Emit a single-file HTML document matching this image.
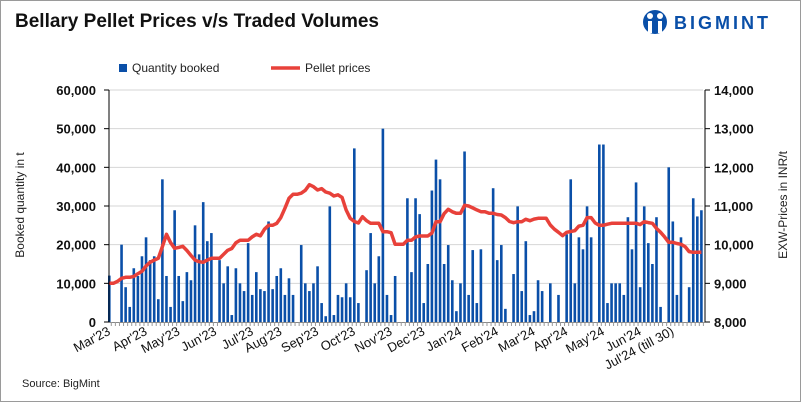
<!DOCTYPE html>
<html><head><meta charset="utf-8"><style>
body{margin:0;background:#fff}
svg{display:block;font-family:"Liberation Sans",sans-serif}
</style></head><body>
<svg id="c" width="801" height="402" viewBox="0 0 801 402">
<rect x="0.5" y="0.5" width="800" height="401" fill="#fff" stroke="#9a9a9a"/>
<text x="15" y="27" font-size="19" font-weight="bold" fill="#111">Bellary Pellet Prices v/s Traded Volumes</text>
<g>
<circle cx="655" cy="22" r="12" fill="#0a4fa8"/>
<circle cx="650" cy="16" r="3" fill="#fff"/><circle cx="660" cy="16" r="3" fill="#fff"/>
<rect x="648" y="21" width="4" height="12" fill="#fff"/><rect x="658" y="21" width="4" height="12" fill="#fff"/>
<text x="674" y="29" font-size="18" font-weight="bold" fill="#0a4fa8" letter-spacing="3">BIGMINT</text>
</g>
<g>
<rect x="119" y="64" width="8" height="8" fill="#0a4fa8"/>
<text x="132" y="72" font-size="12" fill="#222">Quantity booked</text>
<line x1="271" y1="68" x2="300" y2="68" stroke="#e8413a" stroke-width="3.5"/>
<text x="305" y="72" font-size="12" fill="#222">Pellet prices</text>
</g>
<g id="grid"></g><g id="bars"></g><g id="line"></g><g id="axes"></g>
<text transform="translate(24,205) rotate(-90)" text-anchor="middle" font-size="12" fill="#222">Booked quantity in t</text>
<text transform="translate(787,205) rotate(-90)" text-anchor="middle" font-size="12" fill="#222">EXW-Prices in INR/t</text>
<text x="22" y="387" font-size="11" fill="#222">Source: BigMint</text>
</svg>
<script>
const quantities=[12000,0,0,20000,9000,3900,13900,11900,17000,21900,16000,17000,5900,36900,11900,3900,28900,11900,5400,12900,10800,25000,17500,31000,20900,23000,0,16000,10000,14400,1800,13900,10000,8000,20400,7000,12900,8500,8000,26000,8500,11900,13900,7000,11300,7000,0,19900,10000,8000,10000,14400,4900,1500,29900,1800,7000,6400,10000,6400,44900,4900,0,13400,23000,10000,17000,50000,7000,1800,11900,0,0,32000,12900,32000,27900,4900,15000,34000,42000,36900,15000,19900,10800,2800,10000,44100,7000,18600,4900,18800,0,0,34600,16000,19900,3400,0,12400,29900,8000,20900,1800,2800,10800,8000,0,10000,0,7000,0,22700,36900,10000,21900,18800,29900,21900,0,45900,45900,4900,10000,10000,10000,7000,27100,18800,36100,9000,29900,20400,15000,27100,3900,0,40000,26000,7000,21900,0,9000,32000,27300,28900];
const prices=[9000,9000,9050,9130,9155,9155,9180,9250,9310,9450,9544,9600,9647,9950,10268,10050,9906,9930,9958,9850,9720,9600,9560,9544,9600,9647,9647,9647,9750,9854,9900,10050,10113,10113,10113,10200,10268,10230,10400,10500,10500,10550,10700,10940,11200,11302,11302,11330,11406,11550,11500,11413,11450,11362,11330,11258,11290,11220,10900,10681,10600,10560,10724,10620,10552,10552,10552,10336,10336,10310,10009,10009,10009,10113,10113,10200,10224,10224,10224,10300,10594,10594,10800,10914,10850,10810,10810,11018,11000,10950,10900,10852,10852,10810,10810,10780,10767,10700,10600,10568,10594,10594,10655,10620,10660,10681,10681,10681,10508,10400,10320,10232,10320,10340,10362,10480,10500,10700,10700,10560,10500,10500,10530,10552,10552,10552,10552,10552,10552,10552,10520,10594,10570,10552,10420,10320,10200,10060,10060,10030,10009,9950,9820,9802,9802,9802];
const leftTicks=[0,10000,20000,30000,40000,50000,60000];
const rightTicks=[8000,9000,10000,11000,12000,13000,14000];
const monthLabels=["Mar'23","Apr'23","May'23","Jun'23","Jul'23","Aug'23","Sep'23","Oct'23","Nov'23","Dec'23","Jan'24","Feb'24","Mar'24","Apr'24","May'24","Jun'24","Jul'24 (till 30)"];
const monthSlots=[0,9,17,26,35,42,51,60,69,77,86,95,104,112,121,130,138];

const NS="http://www.w3.org/2000/svg";
const X0=109.3,X1=701.4,YT=90,YB=322;
const n=quantities.length;
function xAt(i){return X0+i*(X1-X0)/(n-1);}
function yL(v){return YB-(v/60000)*(YB-YT);}
function yR(v){return YB-((v-8000)/6000)*(YB-YT);}
function mk(tag,attrs,parent){const e=document.createElementNS(NS,tag);for(const k in attrs)e.setAttribute(k,attrs[k]);parent.appendChild(e);return e;}
const g=document.getElementById('grid'),b=document.getElementById('bars'),l=document.getElementById('line'),a=document.getElementById('axes');
leftTicks.forEach(t=>{
 if(t>0){const gl=mk('line',{x1:109,x2:703,y1:yL(t),y2:yL(t),stroke:'#d6d6d6','stroke-width':1},g);
 
 }
 const tx=mk('text',{x:96,y:yL(t)+5,'text-anchor':'end','font-size':13,'font-weight':'bold',fill:'#111'},a);tx.textContent=t.toLocaleString('en-US');
 
 
 mk('line',{x1:104,x2:109,y1:yL(t),y2:yL(t),stroke:'#000'},a);
});
rightTicks.forEach(t=>{
 const tx=mk('text',{x:714,y:yR(t)+5,'font-size':13,'font-weight':'bold',fill:'#111'},a);tx.textContent=t.toLocaleString('en-US');
 
 
 mk('line',{x1:705,x2:710,y1:yR(t),y2:yR(t),stroke:'#000'},a);
});
quantities.forEach((v,i)=>{
 if(v<=0)return;
 const r=mk('rect',{x:xAt(i)-1.3,y:yL(v),width:2.6,height:YB-yL(v),fill:'#0a4fa8'},b);
 
 
});
const pl=mk('polyline',{points:prices.map((p,i)=>xAt(i).toFixed(1)+','+yR(p).toFixed(1)).join(' '),fill:'none',stroke:'#e8413a','stroke-width':3.5,'stroke-linejoin':'round'},l);


const ax1=mk('line',{x1:109,x2:109,y1:YT,y2:YB,stroke:'#000'},a);


const ax2=mk('line',{x1:705,x2:705,y1:YT,y2:YB,stroke:'#000'},a);


const ax3=mk('line',{x1:109,x2:705,y1:YB+0.5,y2:YB+0.5,stroke:'#888'},a);


for(let i=0;i<n;i++){mk('line',{x1:xAt(i)+2,x2:xAt(i)+2,y1:YB,y2:YB+4,stroke:'#999'},a);}
monthLabels.forEach((m,k)=>{
 const x=xAt(monthSlots[k])+2;
 const t=mk('text',{transform:'translate('+x+',334) rotate(-28)','text-anchor':'end','font-size':13,fill:'#111'},a);t.textContent=m;
 
 
});
</script>
</body></html>
